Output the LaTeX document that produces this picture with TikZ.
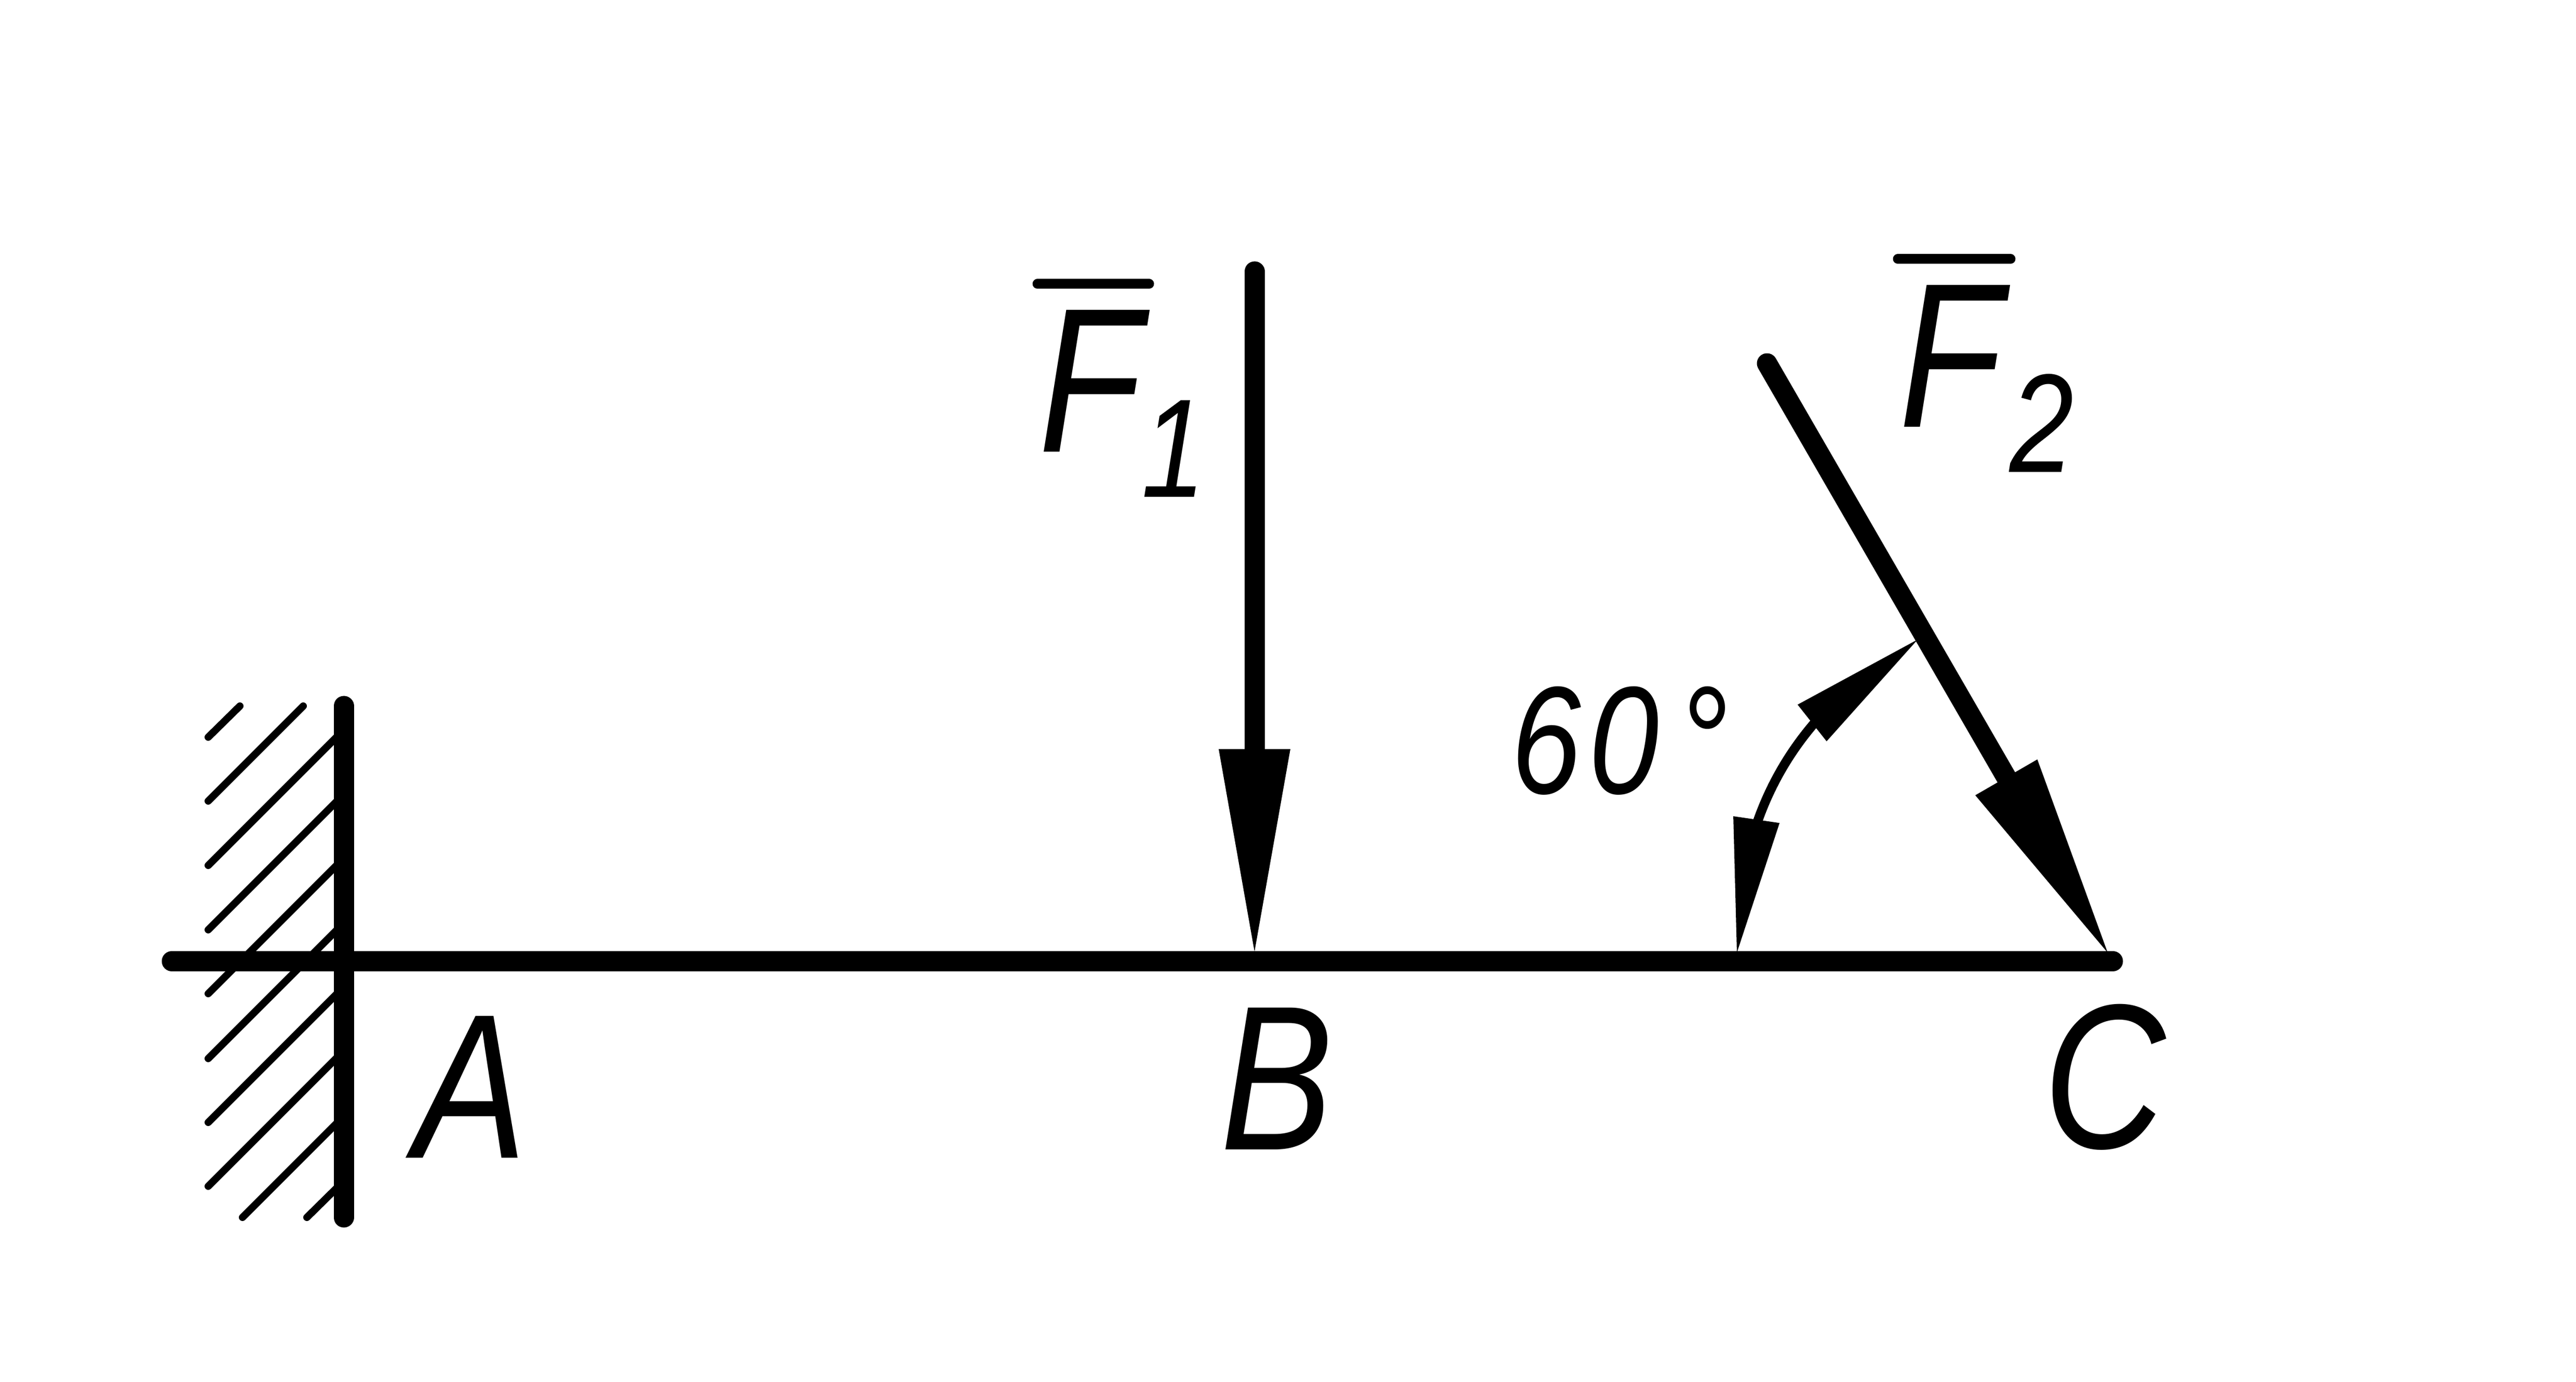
\documentclass[tikz,border=0pt]{standalone}
\usepackage{fontspec}
\setmainfont[FakeStretch=0.82]{Liberation Sans}
\usetikzlibrary{arrows.meta,bending,positioning}
\tikzstyle{member}=[line width=.39cm, line cap=round]
\tikzstyle{hatch}=[line width=.14cm, line cap=round]
\tikzstyle{force}=[line width=.39cm, line cap=round, -{Triangle[length=3.9cm,width=1.38cm,line width=0pt]}]
\tikzstyle{anglearc}=[line width=.18cm, {Triangle[length=2.59cm,width=.9cm,line width=0pt,flex=1]}-{Triangle[length=2.59cm,width=.9cm,line width=0pt,flex=1]}]
\tikzstyle{vecbar}=[line width=.19cm, line cap=round]
\tikzstyle{big}=[inner sep=0pt, anchor=base west, font=\fontsize{113}{114}\selectfont\itshape]
\tikzstyle{small}=[inner sep=0pt, anchor=base west, font=\fontsize{77}{78}\selectfont\itshape]
\tikzstyle{angtext}=[inner sep=0pt, anchor=base west, font=\fontsize{84}{85}\selectfont\itshape]

\begin{document}
\begin{tikzpicture}
\useasboundingbox (0,0) rectangle (49.61,26.62);

\coordinate (wt) at (6.62,13.02);
\coordinate (wb) at (6.62,3.17);
\coordinate (bl) at (3.31,8.105);
\coordinate (br) at (40.69,8.105);
\coordinate (f1s) at (24.16,21.39);
\coordinate (f1e) at (24.16,8.29);
\coordinate (f2s) at (34.03,19.62);
\coordinate (f2e) at (40.59,8.27);
\coordinate (a1) at (33.45,8.27);
\coordinate (a2) at (36.93,14.30);

%% hatching behind the wall
\draw[hatch] (4.01,12.42) -- (4.62,13.02);
\draw[hatch] (4.01,11.19) -- (5.84,13.02);
\draw[hatch] (4.01,9.95) -- (wt |- 0,12.56);
\draw[hatch] (4.01,8.71) -- (wt |- 0,11.32);
\draw[hatch] (4.01,7.48) -- (wt |- 0,10.09);
\draw[hatch] (4.01,6.23) -- (wt |- 0,8.84);
\draw[hatch] (4.01,5.00) -- (wt |- 0,7.61);
\draw[hatch] (4.01,3.77) -- (wt |- 0,6.38);
\draw[hatch] (4.67,3.17) -- (wt |- 0,5.12);
\draw[hatch] (5.91,3.17) -- (wt |- 0,3.87);

\draw[member] (wt) -- (wb);
\draw[member] (bl) -- (br);
\draw[force] (f1s) -- (f1e);
\draw[force] (f2s) -- (f2e);
\draw[anglearc] (a1) to[bend left=30] (a2);

\node[big] (A) at (7.97,4.31) {A};
\node[big] (B) at (23.50,4.47) {B};
\node[big] (C) at (39.35,4.50) {C};
\node[big] (F1) at (20.00,17.91) {F};
\node[small] (s1) at (21.98,17.04) {1};
\node[big] (F2) at (36.57,18.39) {F};
\node[small] (s2) at (38.70,17.52) {2};
\node[angtext] (ang) at (29.10,11.33) {6\kern.15cm 0\kern.37cm °};

\draw[vecbar] (19.98,21.15) -- (22.13,21.15);
\draw[vecbar] (36.55,21.63) -- (38.72,21.63);

\end{tikzpicture}
\end{document}
